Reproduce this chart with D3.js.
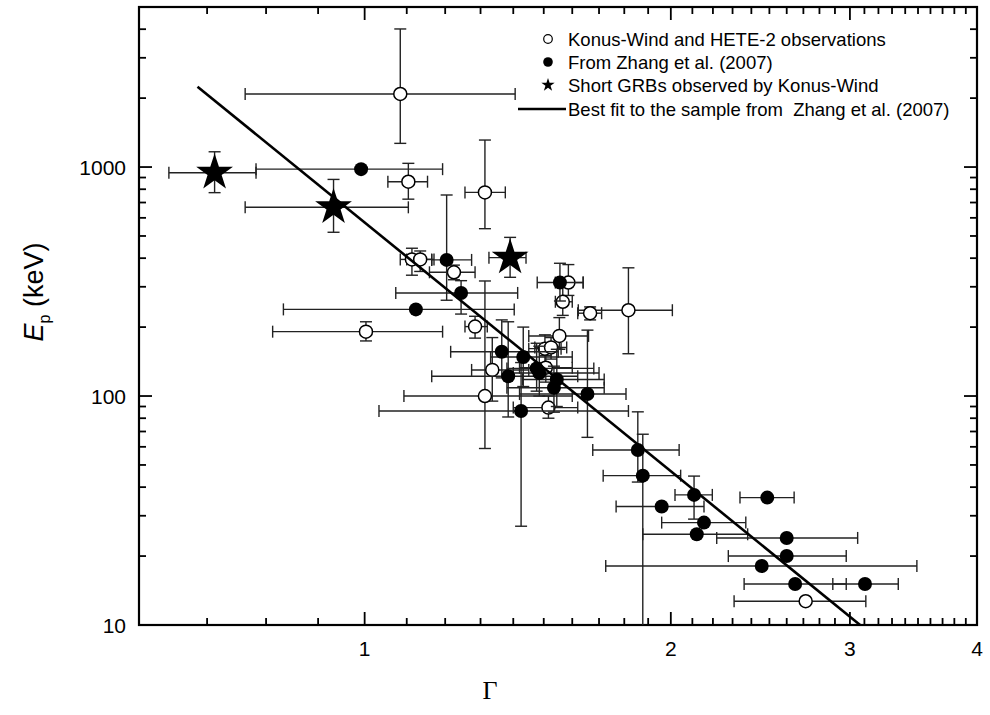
<!DOCTYPE html>
<html>
<head>
<meta charset="utf-8">
<script src="https://cdn.jsdelivr.net/npm/d3@7"></script>
<style>
  html, body { margin: 0; padding: 0; background: #fff; }
  svg { display: block; font-family: "Liberation Sans", Arial, sans-serif; }
</style>
</head>
<body>
<svg id="chart" width="990" height="715"></svg>
<script>
// ---------------- DATA ----------------
// Konus-Wind and HETE-2 observations (open circles)
const openGamma   = [1.084, 1.104, 1.313, 1.113, 1.134, 1.224, 1.003, 1.284, 1.335, 1.313, 1.516, 1.507, 1.504, 1.525, 1.554, 1.566, 1.586, 1.666, 1.817, 2.714];
const openEp      = [2085,  863,   775,   395,   395,   347,   191,   201,   130,   100,   89,    133,   161,   163,   183,   258,   313,   230,   237,   12.7];
const openGLo     = [0.763, 1.054, 1.255, 1.084, 1.100, 1.158, 0.812, 1.255, 1.274, 1.093, 1.40,  1.42,  1.45,  1.47,  1.45,  1.54,  1.54,  1.62,  1.622, 2.308];
const openGHi     = [1.406, 1.153, 1.375, 1.164, 1.170, 1.284, 1.193, 1.320, 1.450, 1.600, 1.62,  1.60,  1.56,  1.58,  1.66,  1.60,  1.64,  1.71,  2.007, 3.11];
const openELo     = [1269,  724,   538,   337,   350,   322,   174,   179,   95,    59,    80,    115,   140,   145,   160,   225,   275,   215,   153,   null];
const openEHi     = [4009,  1038,  1312,  442,   430,   373,   211,   223,   180,   318,   100,   150,   185,   180,   220,   300,   375,   245,   363,   null];

// From Zhang et al. (2007) (filled circles)
const zhangGamma  = [0.992, 1.204, 1.244, 1.123, 1.364, 1.432, 1.384, 1.476, 1.485, 1.545, 1.535, 1.656, 1.425, 1.556, 1.856, 1.877, 2.108, 2.488, 1.959, 2.156, 2.121, 2.600, 2.600, 2.457, 2.650, 3.104];
const zhangEp     = [979,   393,   282,   239,   156,   148,   122,   132,   126,   118,   108.7, 102,   86,    313,   58.1,  44.9,  37,    36,    32.9,  28,    24.9,  24.0,  20.0,  18.1,  15.1,  15.1];
const zhangGLo    = [0.782, 1.164, 1.073, 0.832, 1.215, 1.33,  1.164, 1.38,  1.40,  1.43,  1.38,  1.42,  1.033, 1.478, 1.676, 1.716, 2.019, 2.339, 1.767, 1.959, 1.877, 2.219, 2.278, 1.726, 2.361, 2.886];
const zhangGHi    = [1.193, 1.274, 1.414, 1.403, 1.55,  1.60,  1.62,  1.68,  1.70,  1.72,  1.72,  1.807, 1.817, 1.64,  2.038, 2.045, 2.197, 2.644, 2.156, 2.37,  2.38,  3.053, 2.975, 3.491, 2.975, 3.347];
const zhangELo    = [null,  262,   228,   null,  120,   110,   81,    105,   100,   90,    85,    66,    27,    260,   42.1,  5,     29,    null,  null,  null,  null,  null,  null,  null,  null,  null];
const zhangEHi    = [null,  755,   319,   null,  215,   200,   211,   170,   165,   160,   135,   194,   140,   380,   85.3,  68.1,  44.7,  null,  null,  null,  null,  null,  null,  null,  null,  null];

// Short GRBs observed by Konus-Wind (stars)
const shortGamma  = [0.712, 0.932, 1.39];
const shortEp     = [944,   667,   402];
const shortGLo    = [0.642, 0.763, 1.325];
const shortGHi    = [0.782, 1.104, 1.441];
const shortELo    = [773,   519,   330];
const shortEHi    = [1166,  883,   493];

// Best fit to the sample from Zhang et al. (2007): end points of the drawn line
const fitGamma    = [0.685, 3.07];
const fitEp       = [2243,  10];

// Axis tick labels
const xTickLabels = [1, 2, 3, 4];
const yTickLabels = [10, 100, 1000];

const legendLabels = [
  "Konus-Wind and HETE-2 observations",
  "From Zhang et al. (2007)",
  "Short GRBs observed by Konus-Wind",
  "Best fit to the sample from\u00a0 Zhang et al. (2007)"
];

// ---------------- LAYOUT ----------------
const L = 139, R = 977, T = 7, B = 625;
const svg = d3.select("#chart");
const x = d3.scaleLog().domain([0.6, 4]).range([L, R]);
const y = d3.scaleLog().domain([10, 5000]).range([B, T]);

svg.append("defs").append("clipPath").attr("id", "clip")
  .append("rect").attr("x", L).attr("y", T).attr("width", R - L).attr("height", B - T);

// minor/major tick values
const xMinor = [];
for (let v = 7; v <= 39; v++) { const t = v / 10; if (!xTickLabels.includes(t)) xMinor.push(t); }
const yMinor = [];
[10, 100, 1000].forEach(d => { for (let k = 2; k <= 9; k++) { const t = k * d; if (t < 5000) yMinor.push(t); } });

const frame = svg.append("g");
const tickStroke = "#000";
const majLen = 13, minLen = 7;
// bottom and top ticks (inward)
xTickLabels.concat(xMinor).forEach(t => {
  const len = xTickLabels.includes(t) ? majLen : minLen;
  const px = x(t);
  frame.append("line").attr("x1", px).attr("x2", px).attr("y1", B).attr("y2", B - len)
    .attr("stroke", tickStroke).attr("stroke-width", 1.8);
  frame.append("line").attr("x1", px).attr("x2", px).attr("y1", T).attr("y2", T + len)
    .attr("stroke", tickStroke).attr("stroke-width", 1.8);
});
yTickLabels.concat(yMinor).forEach(t => {
  const len = yTickLabels.includes(t) ? majLen : minLen;
  const py = y(t);
  frame.append("line").attr("x1", L).attr("x2", L + len).attr("y1", py).attr("y2", py)
    .attr("stroke", tickStroke).attr("stroke-width", 1.8);
  frame.append("line").attr("x1", R).attr("x2", R - len).attr("y1", py).attr("y2", py)
    .attr("stroke", tickStroke).attr("stroke-width", 1.8);
});
frame.append("rect").attr("x", L).attr("y", T).attr("width", R - L).attr("height", B - T)
  .attr("fill", "none").attr("stroke", "#000").attr("stroke-width", 2.2);

// tick labels
svg.append("g").selectAll("text").data(xTickLabels).join("text")
  .attr("x", d => x(d)).attr("y", 656).attr("text-anchor", "middle")
  .attr("font-size", 21).attr("fill", "#000").text(d => d);
svg.append("g").selectAll("text").data(yTickLabels).join("text")
  .attr("x", 126).attr("y", d => y(d) + 7.5).attr("text-anchor", "end")
  .attr("font-size", 21).attr("fill", "#000").text(d => d);

// axis titles
svg.append("text").attr("x", 490).attr("y", 699).attr("text-anchor", "middle")
  .attr("font-family", "'Liberation Serif', 'Times New Roman', serif")
  .attr("font-size", 26).text("\u0393");
const yt = svg.append("text").attr("transform", "translate(43,292) rotate(-90)")
  .attr("text-anchor", "middle").attr("font-size", 27);
yt.append("tspan").attr("font-style", "italic").text("E");
yt.append("tspan").attr("font-size", 16).attr("dy", 7).text("p");
yt.append("tspan").attr("dy", -7).text(" (keV)");

// ---------------- MARKS ----------------
const plot = svg.append("g").attr("clip-path", "url(#clip)");
const cap = 6;
const ebColor = "#222", ebWidth = 1.4;

function drawErrorBars(g, gam, ep, glo, ghi, elo, ehi) {
  gam.forEach((gv, i) => {
    const cx = x(gv), cy = y(ep[i]);
    if (glo[i] != null) {
      const x0 = x(glo[i]), x1 = x(ghi[i]);
      g.append("line").attr("x1", x0).attr("x2", x1).attr("y1", cy).attr("y2", cy);
      g.append("line").attr("x1", x0).attr("x2", x0).attr("y1", cy - cap).attr("y2", cy + cap);
      g.append("line").attr("x1", x1).attr("x2", x1).attr("y1", cy - cap).attr("y2", cy + cap);
    }
    if (elo[i] != null) {
      const y0 = y(elo[i]), y1 = y(ehi[i]);
      g.append("line").attr("x1", cx).attr("x2", cx).attr("y1", y0).attr("y2", y1);
      g.append("line").attr("x1", cx - cap).attr("x2", cx + cap).attr("y1", y0).attr("y2", y0);
      g.append("line").attr("x1", cx - cap).attr("x2", cx + cap).attr("y1", y1).attr("y2", y1);
    }
  });
  g.attr("stroke", ebColor).attr("stroke-width", ebWidth);
}

// open circles
drawErrorBars(plot.append("g"), openGamma, openEp, openGLo, openGHi, openELo, openEHi);
plot.append("g").selectAll("circle").data(openGamma).join("circle")
  .attr("cx", d => x(d)).attr("cy", (d, i) => y(openEp[i])).attr("r", 6.5)
  .attr("fill", "#fff").attr("stroke", "#000").attr("stroke-width", 1.5);

// filled circles
drawErrorBars(plot.append("g"), zhangGamma, zhangEp, zhangGLo, zhangGHi, zhangELo, zhangEHi);
plot.append("g").selectAll("circle").data(zhangGamma).join("circle")
  .attr("cx", d => x(d)).attr("cy", (d, i) => y(zhangEp[i])).attr("r", 7)
  .attr("fill", "#000");

// stars
drawErrorBars(plot.append("g"), shortGamma, shortEp, shortGLo, shortGHi, shortELo, shortEHi);
const starBig = d3.symbol().type(d3.symbolStar).size(420);
plot.append("g").selectAll("path").data(shortGamma).join("path")
  .attr("transform", (d, i) => `translate(${x(d)},${y(shortEp[i])})`)
  .attr("d", starBig).attr("fill", "#000");

// best fit line
const fitPts = fitGamma.map((g, i) => [x(g), y(fitEp[i])]);
plot.append("path").attr("d", d3.line()(fitPts)).attr("stroke", "#000")
  .attr("stroke-width", 2.6).attr("fill", "none");

// ---------------- LEGEND ----------------
const lg = svg.append("g");
const legY = [39, 62, 85, 109];
const symX = 548, txtX = 568;
lg.append("circle").attr("cx", symX).attr("cy", legY[0]).attr("r", 4.3)
  .attr("fill", "#fff").attr("stroke", "#000").attr("stroke-width", 1.2);
lg.append("circle").attr("cx", symX).attr("cy", legY[1]).attr("r", 4.8).attr("fill", "#000");
lg.append("path").attr("transform", `translate(${symX},${legY[2]})`)
  .attr("d", d3.symbol().type(d3.symbolStar).size(55)).attr("fill", "#000");
lg.append("line").attr("x1", 518).attr("x2", 566).attr("y1", legY[3]).attr("y2", legY[3])
  .attr("stroke", "#000").attr("stroke-width", 2.4);
lg.selectAll("text.lab").data(legendLabels).join("text").attr("class", "lab")
  .attr("x", txtX).attr("y", (d, i) => legY[i] + 6.5).attr("font-size", 18.5).attr("fill", "#000")
  .text(d => d);
</script>
</body>
</html>
